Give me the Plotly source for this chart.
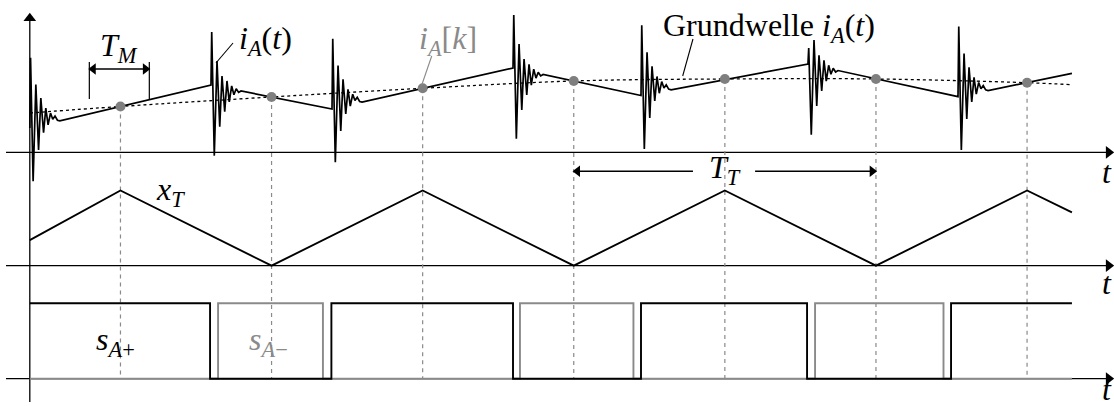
import numpy as np
import plotly.graph_objects as go

# ---------------- data (time in units of T_M, origin at the vertical axis) ----------------
sample_t = [0.6, 1.6, 2.6, 3.6, 4.6, 5.6, 6.6]
sample_i = [1.146, 1.383, 1.60, 1.783, 1.833, 1.833, 1.74]

carrier_t = [0.0, 0.6, 1.6, 2.6, 3.6, 4.6, 5.6, 6.6, 6.897]
carrier_v = [0.34, 1, 0, 1, 0, 1, 0, 1, 0.71]

sp_t = [0.0, 1.193, 1.996, 3.198, 4.045, 5.144, 6.097, 6.897]
sp_v = [1, 0, 1, 0, 1, 0, 1, 1]
sm_t = [0.0, 1.246, 1.940, 3.244, 3.995, 5.197, 6.047, 6.897]
sm_v = [0, 1, 0, 1, 0, 1, 0, 0]

# ideal (piecewise linear) phase current, vertices at the switching instants
base_t = [0.0, 1.199, 2.0, 3.198, 4.045, 5.150, 6.143, 6.897]
base_i = [0.608, 1.683, 1.083, 2.108, 1.42, 2.208, 1.39, 1.975]

# switching transients (ringing) after each switching event
edge = ["rise", "fall", "rise", "fall", "rise", "fall", "rise"]
first_peak = [1.75, 1.33, 1.75, 1.33, 1.75, 0.40, 1.75]
ring_dt = [0, 0.005, 0.022, 0.040, 0.058, 0.073, 0.091, 0.106, 0.121, 0.137, 0.152, 0.167, 0.183, 0.199]
ring_rise = [-1.35, 1.05, -0.60, 0.68, -0.20, 0.40, -0.03, 0.25, 0.08, 0.15, 0.03, 0.0]
ring_fall = [-1.75, 0.63, -1.00, 0.28, -0.60, 0.18, -0.33, 0.08, -0.13, 0.03, -0.05, 0.0]

# fundamental of the current
fund_t = [0.0, 0.6, 1.6, 2.6, 3.6, 4.6, 5.6, 6.6, 6.897]
fund_i = [0.983, 1.146, 1.383, 1.60, 1.783, 1.833, 1.833, 1.74, 1.69]

# ---------------- layout of the three channels on one vertical scale ----------------
OFF_I, G_I = 226.4, 40.0     # current channel
OFF_X, G_X = 113.0, 75.2     # carrier channel
OFF_S, G_S = 0.0, 75.4       # switching signals
XMIN, XMAX = -0.1972, 7.1754
YMIN, YMAX = -27.3, 378.7

BLACK = "#000000"
GRAY = "#8a8a8a"
FONT = "Liberation Serif"

# build the current waveform
cur_t, cur_i = [], []
for j, ts in enumerate(base_t[:-1]):
    prof = ring_rise if edge[j] == "rise" else ring_fall
    offs = [0.0, first_peak[j]] + prof
    for dt, o in zip(ring_dt, offs):
        t = ts + dt
        cur_t.append(t)
        cur_i.append(float(np.interp(t, base_t, base_i)) + o)
cur_t.append(base_t[-1])
cur_i.append(base_i[-1])

fig = go.Figure()


def line(x, y, color=BLACK, width=1.3, dash=None, shape=None):
    fig.add_trace(go.Scatter(x=x, y=y, mode="lines",
                             line=dict(color=color, width=width, dash=dash, shape=shape),
                             hoverinfo="skip"))


def heads(x, y, symbols, size=11, color=BLACK):
    fig.add_trace(go.Scatter(x=x, y=y, mode="markers",
                             marker=dict(symbol=symbols, size=size, color=color,
                                         line=dict(width=0)),
                             hoverinfo="skip"))


# axes lines (drawn below signals)
axis_y = [OFF_I, OFF_X, OFF_S]
for yb in axis_y:
    line([-0.1575, 7.13], [yb, yb])
line([0, 0], [-23.3, 358])

# vertical sampling lines
vx, vy = [], []
for t, i in zip(sample_t, sample_i):
    vx += [t, t, None]
    vy += [OFF_I + G_I * i, OFF_S, None]
line(vx, vy, color=GRAY, width=1.2, dash="4px,4px")

# fundamental
line(fund_t, [OFF_I + G_I * v for v in fund_i], width=1.3, dash="3px,3px", shape="spline")

# current
line(cur_t, [OFF_I + G_I * v for v in cur_i], width=1.7)

# samples
fig.add_trace(go.Scatter(x=sample_t, y=[OFF_I + G_I * v for v in sample_i], mode="markers",
                         marker=dict(color="#7f7f7f", size=10), hoverinfo="skip"))

# carrier
line(carrier_t, [OFF_X + G_X * v for v in carrier_v], width=1.9)

# switching signals
line(sm_t, [OFF_S + G_S * v for v in sm_v], color=GRAY, width=1.9, shape="hv")
line(sp_t, [OFF_S + G_S * v for v in sp_v], width=1.9, shape="hv")

# axis arrowheads
heads([7.14] * 3, axis_y, ["triangle-right"] * 3)
heads([0], [360.5], ["triangle-up"])

# T_M bracket
line([0.394, 0.394, None, 0.791, 0.791], [279.7, 316.7, None, 279.7, 316.7], width=1.2)
line([0.40, 0.785], [309.7, 309.7], width=1.4)
heads([0.42, 0.765], [309.7, 309.7], ["triangle-left", "triangle-right"], size=10)

# T_T arrows
line([3.62, 4.389, None, 4.80, 5.58], [207.5, 207.5, None, 207.5, 207.5], width=1.4)
heads([3.625, 5.575], [207.5, 207.5], ["triangle-left", "triangle-right"], size=10)

# leaders
line([1.232, 1.345], [315.7, 335.7], width=1.1)
line([2.594, 2.660], [293.7, 322.7], color=GRAY, width=1.1)
line([4.321, 4.389], [302.7, 339.7], width=1.1)

ann = []
FS = 32


def label(x, y, text, color=BLACK, size=FS):
    ann.append(dict(x=x, y=y, xref="x", yref="y", text=text, showarrow=False,
                    xanchor="center", yanchor="middle",
                    font=dict(family=FONT, size=size, color=color)))


label(0.59, 331, "<i>T</i><sub><i>M</i></sub>")
label(1.56, 338, "<i>i</i><sub><i>A</i></sub>(<i>t</i>)")
label(2.77, 338, "<i>i</i><sub><i>A</i></sub>[<i>k</i>]", color=GRAY)
label(4.89, 351, "Grundwelle <i>i</i><sub><i>A</i></sub>(<i>t</i>)")
label(4.60, 209, "<i>T</i><sub><i>T</i></sub>")
label(0.93, 187, "<i>x</i><sub><i>T</i></sub>")
label(0.57, 37, "<i>s</i><sub><i>A</i>+</sub>")
label(1.58, 37, "<i>s</i><sub><i>A</i>−</sub>", color=GRAY)
for yb in [206.7, 95.7, -10.5]:
    ann.append(dict(x=7.175, y=yb, xref="x", yref="y", text="<i>t</i>", showarrow=False,
                    xanchor="right", yanchor="middle",
                    font=dict(family=FONT, size=FS, color=BLACK)))

fig.update_layout(
    width=1114, height=406,
    margin=dict(l=0, r=0, t=0, b=0),
    paper_bgcolor="white", plot_bgcolor="white",
    font=dict(family=FONT, size=FS, color=BLACK),
    showlegend=False,
    xaxis=dict(range=[XMIN, XMAX], visible=False, fixedrange=True),
    yaxis=dict(range=[YMIN, YMAX], visible=False, fixedrange=True),
    annotations=ann,
)

fig.write_html("out.html", config={"displayModeBar": False},
               post_script="document.body.style.margin='0';document.body.style.overflow='hidden';")
